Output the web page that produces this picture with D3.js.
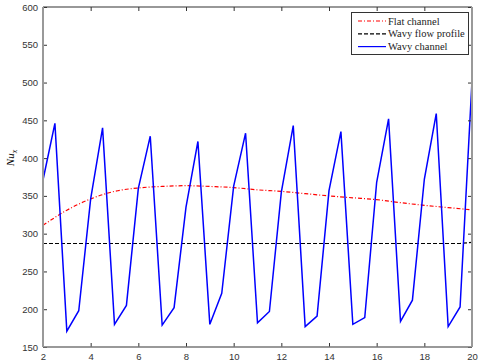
<!DOCTYPE html>
<html>
<head>
<meta charset="utf-8">
<script src="https://cdn.jsdelivr.net/npm/d3@7"></script>
<style>
body { margin: 0; background: #fff; }
svg { display: block; }
</style>
</head>
<body>
<svg id="chart"></svg>
<script>
// x positions for the wavy channel (every 0.5)
var wavyX = d3.range(2, 20.01, 0.5);
var wavyY = [371, 446, 171, 198, 346, 440, 180, 205, 360, 429, 179, 202, 335, 422,
             180, 221, 363, 433, 182, 197, 355, 443, 177, 191, 357, 435, 180, 189,
             368, 452, 184, 212, 372, 459, 177, 203, 502];

var flowY = wavyX.map(function (x) { return x < 19.75 ? 287 : 288.5; });

var flatX = [2, 3, 4, 5, 6, 7, 8, 9, 10, 11, 12, 13, 14, 15, 16, 17, 18, 19, 20];
var flatY = [311, 331, 346, 356, 360.5, 362.5, 363.5, 362.5, 361, 358, 356, 353, 350,
             347.5, 345, 341, 337.5, 334.5, 331.5];

var xTicks = [2, 4, 6, 8, 10, 12, 14, 16, 18, 20];
var yTicks = [150, 200, 250, 300, 350, 400, 450, 500, 550, 600];

var legendNames = ["Flat channel", "Wavy flow profile", "Wavy channel"];

var W = 480, H = 362;
var margin = {top: 7, right: 8, bottom: 15, left: 43};

var svg = d3.select("#chart").attr("width", W).attr("height", H);

var x = d3.scaleLinear().domain([2, 20]).range([margin.left, W - margin.right]);
var y = d3.scaleLinear().domain([150, 600]).range([H - margin.bottom, margin.top]);

var plot = svg.append("g");

// axes, ticks pointing inwards
function styleAxis(g) {
    g.select(".domain").remove();
    g.selectAll("line").attr("stroke", "#333");
    g.selectAll("text").style("font-family", "Arial, 'Liberation Sans', sans-serif")
        .style("font-size", "9.5px").attr("fill", "#333");
}

svg.append("g")
    .attr("transform", "translate(0," + (H - margin.bottom) + ")")
    .call(d3.axisBottom(x).tickValues(xTicks).tickSize(-4).tickPadding(6))
    .call(styleAxis);
svg.append("g")
    .attr("transform", "translate(0," + margin.top + ")")
    .call(d3.axisTop(x).tickValues(xTicks).tickSize(-4).tickFormat(""))
    .call(styleAxis);
svg.append("g")
    .attr("transform", "translate(" + margin.left + ",0)")
    .call(d3.axisLeft(y).tickValues(yTicks).tickSize(-4).tickPadding(5))
    .call(styleAxis);
svg.append("g")
    .attr("transform", "translate(" + (W - margin.right) + ",0)")
    .call(d3.axisRight(y).tickValues(yTicks).tickSize(-4).tickFormat(""))
    .call(styleAxis);

// frame
svg.append("line").attr("x1", margin.left).attr("x2", W - margin.right)
    .attr("y1", margin.top).attr("y2", margin.top).attr("stroke", "#333").attr("stroke-width", 1.2);
svg.append("line").attr("x1", margin.left).attr("x2", W - margin.right)
    .attr("y1", H - margin.bottom).attr("y2", H - margin.bottom).attr("stroke", "#777").attr("stroke-width", 1.5);
svg.append("line").attr("x1", margin.left).attr("x2", margin.left)
    .attr("y1", margin.top).attr("y2", H - margin.bottom).attr("stroke", "#999").attr("stroke-width", 2);
svg.append("line").attr("x1", W - margin.right).attr("x2", W - margin.right)
    .attr("y1", margin.top).attr("y2", H - margin.bottom).attr("stroke", "#999").attr("stroke-width", 2);

// lines
var lineFlat = d3.line().x(function (d, i) { return x(flatX[i]); })
    .y(function (d) { return y(d); }).curve(d3.curveMonotoneX);
var lineWavy = d3.line().x(function (d, i) { return x(wavyX[i]); })
    .y(function (d) { return y(d); });

plot.append("path").datum(flowY).attr("d", lineWavy)
    .attr("fill", "none").attr("stroke", "#000").attr("stroke-width", 1.2)
    .attr("stroke-dasharray", "4,2");
plot.append("path").datum(flatY).attr("d", lineFlat)
    .attr("fill", "none").attr("stroke", "#ff0000").attr("stroke-width", 1.2)
    .attr("stroke-dasharray", "4,2,1,2");
plot.append("path").datum(wavyY).attr("d", lineWavy)
    .attr("fill", "none").attr("stroke", "#0000ff").attr("stroke-width", 1.5);

// y label
svg.append("text")
    .attr("transform", "translate(14,158) rotate(-90)")
    .attr("text-anchor", "middle")
    .style("font-family", "'Liberation Serif', 'Times New Roman', serif")
    .style("font-size", "11px").style("font-style", "italic")
    .text("Nu")
    .append("tspan").attr("dy", 3).style("font-size", "8px").text("x");

// legend
var legend = svg.append("g");
legend.append("rect").attr("x", 351.5).attr("y", 12.5).attr("width", 117).attr("height", 42)
    .attr("fill", "#fff").attr("stroke", "#333").attr("stroke-width", 1);
var legendStyles = [
    {color: "#ff0000", dash: "4,2,1,2"},
    {color: "#000", dash: "4,2"},
    {color: "#0000ff", dash: null}
];
legendNames.forEach(function (name, i) {
    var ly = 21 + i * 12.8;
    legend.append("line").attr("x1", 358).attr("x2", 386).attr("y1", ly).attr("y2", ly)
        .attr("stroke", legendStyles[i].color).attr("stroke-width", 1.2)
        .attr("stroke-dasharray", legendStyles[i].dash);
    legend.append("text").attr("x", 388).attr("y", ly + 3.5)
        .style("font-family", "'Liberation Serif', 'Times New Roman', serif")
        .style("font-size", "10.5px").attr("fill", "#222")
        .text(name);
});
</script>
</body>
</html>
